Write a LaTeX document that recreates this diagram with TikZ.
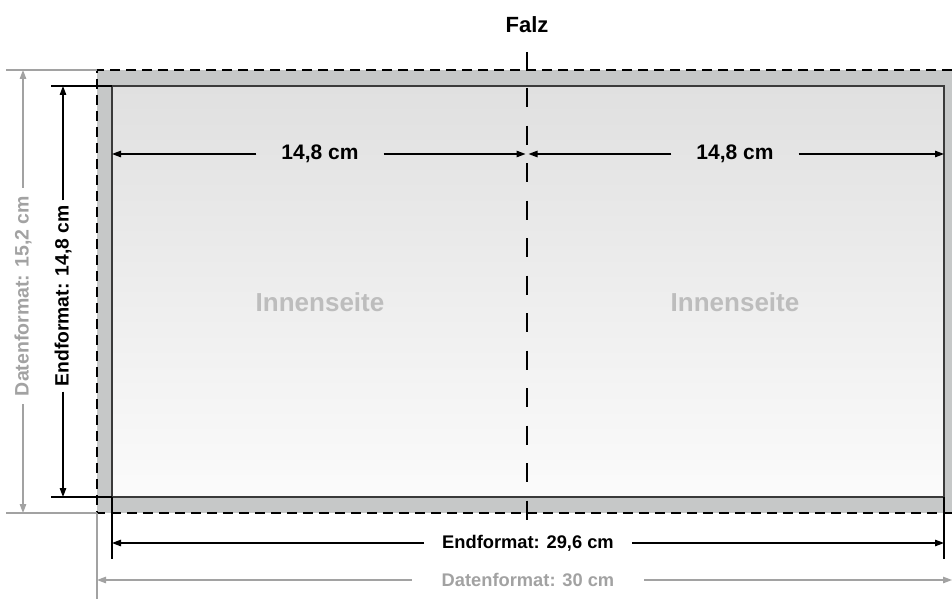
\documentclass[tikz,border=0pt]{standalone}
\usepackage{fontspec}
\setmainfont{Liberation Sans}
\usetikzlibrary{arrows.meta}
\definecolor{bleed}{HTML}{C6C8C8}
\definecolor{framegray}{HTML}{3A3A3A}
\definecolor{datagray}{HTML}{A2A2A2}
\definecolor{pagegray}{HTML}{BDBDBD}
\definecolor{shadetop}{HTML}{E0E0E0}
\definecolor{shadebot}{HTML}{FBFBFB}
\newcommand{\fsz}[1]{\bfseries\fontsize{#1}{#1}\selectfont}
\begin{document}
\begin{tikzpicture}[x=1pt,y=-1pt,
    dimline/.style={line width=1.2pt,black},
    dimarrow/.style={dimline,-{Triangle[length=9pt,width=6.5pt]}},
    datline/.style={line width=1.2pt,datagray},
    datarrow/.style={datline,-{Triangle[length=9pt,width=6.5pt]}},
    lbl/.style={inner ysep=0pt,inner xsep=6pt}]
  \useasboundingbox (0,0) rectangle (952,599);
  % Datenformat und Endformat
  \coordinate (dtl) at (97,70);
  \coordinate (dtr) at (952,70);
  \coordinate (dbl) at (97,513);
  \coordinate (dbr) at (952,513);
  \coordinate (etl) at (112,86);
  \coordinate (etr) at (944,86);
  \coordinate (ebl) at (112,497);
  \coordinate (ebr) at (944,497);
  \fill[bleed] (dtl) rectangle (dbr);
  \shade[top color=shadetop,bottom color=shadebot] (etl) rectangle (ebr);
  \draw[line width=1.3pt,framegray] (etl) rectangle (ebr);
  \draw[line width=1.8pt,dash pattern=on 10pt off 6pt] (dtr) -- (dtl) -- (dbl) -- (dbr);
  % Falz
  \node[lbl,font=\fsz{22}] (falz) at (527,25) {Falz};
  \coordinate (fs) at (527,52);
  \coordinate (f1) at (527,88);
  \coordinate (f2) at (527,521);
  \coordinate (fa) at (527,154);
  \draw[line width=1.1pt] (fs) -- (fs |- dtl);
  \draw[line width=1.3pt,dash pattern=on 19pt off 18.5pt] (f1) -- (f2);
  % Innenseiten
  \node[lbl,font=\fsz{26},text=pagegray] (innl) at (320,302) {Innenseite};
  \node[lbl,font=\fsz{26},text=pagegray] (innr) at (735,302) {Innenseite};
  % halbe Breite
  \node[lbl,font=\fsz{21},inner xsep=25pt] (halfl) at (320,154) {14,8 cm};
  \node[lbl,font=\fsz{21},inner xsep=25pt] (halfr) at (735,154) {14,8 cm};
  \draw[dimarrow] (halfl.west) -- (halfl.west -| etl);
  \draw[dimarrow,shorten >=1.5pt] (halfl.east) -- (fa);
  \draw[dimarrow,shorten >=1.5pt] (halfr.west) -- (fa);
  \draw[dimarrow] (halfr.east) -- (halfr.east -| etr);
  % Hoehe
  \coordinate (eh1) at (51,86);
  \coordinate (eh2) at (51,497);
  \coordinate (dh1) at (6,70);
  \coordinate (dh2) at (6,513);
  \draw[dimline] (eh1) -- (etl);
  \draw[dimline] (eh2) -- (ebl);
  \draw[datline] (dh1) -- (dtl);
  \draw[datline] (dh2) -- (dbl);
  \node[lbl,font=\fsz{19.3},rotate=90,inner xsep=5pt] (endh) at (63,296) {Endformat: 14,8 cm};
  \node[lbl,font=\fsz{19.5},rotate=90,inner xsep=8pt,text=datagray] (dath) at (23,296) {Datenformat: 15,2 cm};
  \draw[dimarrow] (endh.east) -- (endh.east |- etl);
  \draw[dimarrow] (endh.west) -- (endh.west |- ebl);
  \draw[datarrow] (dath.east) -- (dath.east |- dtl);
  \draw[datarrow] (dath.west) -- (dath.west |- dbl);
  % Breite
  \coordinate (ev1) at (112,559);
  \coordinate (ev2) at (944,559);
  \coordinate (dv1) at (97,599);
  \draw[dimline] (ebl) -- (ev1);
  \draw[dimline] (ebr) -- (ev2);
  \draw[datline] (dbl) -- (dv1);
  \node[lbl,font=\fsz{18.3},inner xsep=18pt] (endw) at (528,543) {Endformat: 29,6 cm};
  \node[lbl,font=\fsz{18.3},inner xsep=30pt,text=datagray] (datw) at (528,580) {Datenformat: 30 cm};
  \draw[dimarrow] (endw.west) -- (endw.west -| ebl);
  \draw[dimarrow] (endw.east) -- (endw.east -| ebr);
  \draw[datarrow] (datw.west) -- (datw.west -| dbl);
  \draw[datarrow] (datw.east) -- (datw.east -| dbr);
\end{tikzpicture}
\end{document}
